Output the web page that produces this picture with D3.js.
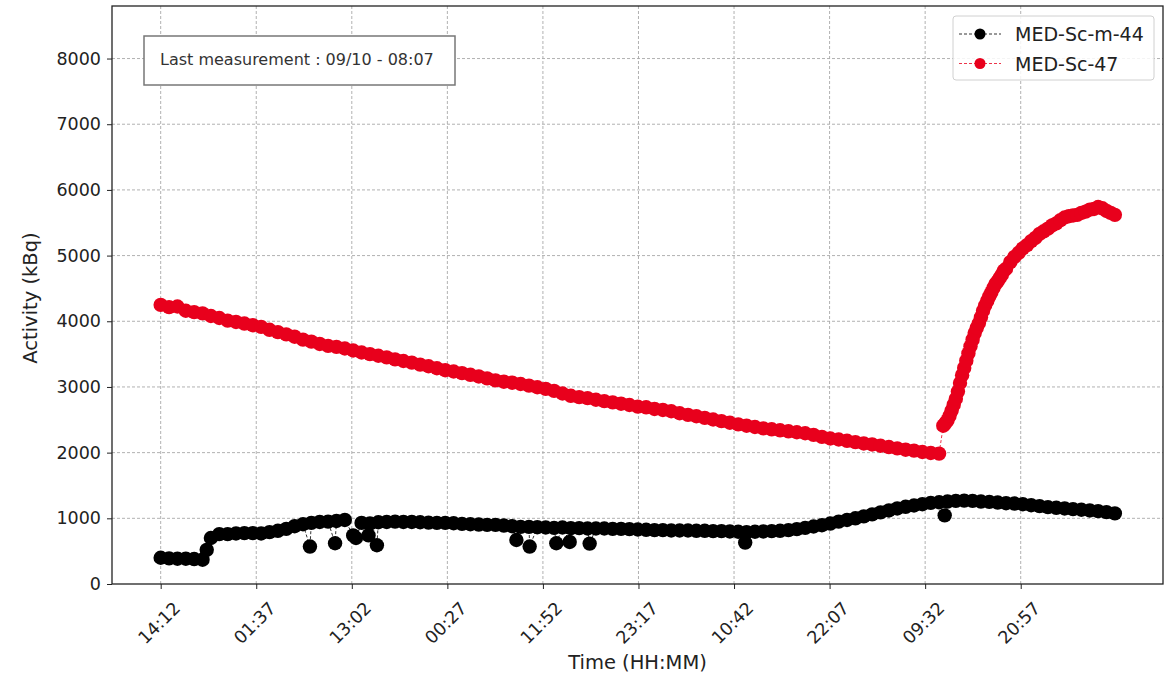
<!DOCTYPE html>
<html>
<head>
<meta charset="utf-8">
<script src="https://cdn.jsdelivr.net/npm/d3@7"></script>
<style>
  html, body { margin: 0; padding: 0; background: #ffffff; }
  svg { display: block; font-family: "DejaVu Sans", sans-serif; }
</style>
</head>
<body>
<svg id="chart" width="1171" height="674"></svg>
<script>
// ---------------- DATA ----------------
// x values are minutes elapsed since the first sample (14:12)
const xTickMinutes = [0, 685, 1370, 2055, 2740, 3425, 4110, 4795, 5480, 6165];
const xTickLabels = ["14:12", "01:37", "13:02", "00:27", "11:52", "23:17", "10:42", "22:07", "09:32", "20:57"];
const yTicks = [0, 1000, 2000, 3000, 4000, 5000, 6000, 7000, 8000];

const seriesNames = ["MED-Sc-m-44", "MED-Sc-47"];
const seriesColors = ["#000000", "#e8001c"];

// MED-Sc-m-44 : [minute, kBq]
const blackData = [
  [0,400],[60,390],[120,385],[180,385],[240,380],[300,370],[330,520],[360,700],[420,760],[480,760],
  [540,770],[600,775],[660,775],[720,770],[780,790],[840,810],[900,840],[960,880],[1020,910],[1070,570],
  [1080,930],[1140,945],[1200,950],[1250,620],[1260,960],[1320,975],[1380,740],[1400,700],[1440,930],[1490,740],
  [1500,920],[1550,590],[1560,940],[1620,945],[1680,950],[1740,945],[1800,945],[1860,940],[1920,935],[1980,930],
  [2040,930],[2100,925],[2160,915],[2220,910],[2280,905],[2340,900],[2400,900],[2460,890],[2520,880],[2550,670],
  [2580,870],[2640,870],[2645,570],[2700,865],[2760,860],[2820,855],[2836,620],[2880,860],[2932,640],[2940,850],
  [3000,850],[3060,845],[3075,615],[3120,845],[3180,845],[3240,840],[3300,840],[3360,835],[3420,830],[3480,825],
  [3540,820],[3600,820],[3660,815],[3720,815],[3780,815],[3840,810],[3900,810],[3960,805],[4020,805],[4080,800],
  [4140,795],[4190,630],[4200,790],[4260,795],[4320,800],[4380,805],[4440,810],[4500,820],[4560,835],[4620,855],
  [4680,875],[4740,895],[4800,920],[4860,950],[4920,975],[4980,1000],[5040,1030],[5100,1060],[5160,1090],[5220,1120],
  [5280,1150],[5340,1175],[5400,1195],[5460,1215],[5520,1235],[5580,1245],[5620,1045],[5640,1255],[5700,1265],[5760,1270],
  [5820,1265],[5880,1255],[5940,1250],[6000,1240],[6060,1230],[6120,1225],[6180,1215],[6240,1200],[6300,1185],[6360,1170],
  [6420,1160],[6480,1150],[6540,1140],[6600,1130],[6660,1120],[6720,1110],[6780,1095],[6840,1075]
];

// MED-Sc-47 : [minute, kBq]
const redData = [
  [0,4250],[60,4215],[120,4225],[180,4160],[240,4140],[300,4120],[360,4080],[420,4050],[480,4010],[540,3990],
  [600,3965],[660,3940],[720,3915],[780,3870],[840,3835],[900,3800],[960,3765],[1020,3720],[1080,3690],[1140,3655],
  [1200,3625],[1260,3610],[1320,3585],[1380,3555],[1440,3525],[1500,3500],[1560,3475],[1620,3450],[1680,3420],[1740,3395],
  [1800,3370],[1860,3340],[1920,3315],[1980,3285],[2040,3255],[2100,3235],[2160,3210],[2220,3185],[2280,3160],[2340,3130],
  [2400,3100],[2460,3080],[2520,3065],[2580,3045],[2640,3020],[2700,2995],[2760,2970],[2820,2940],[2880,2900],[2940,2865],
  [3000,2845],[3060,2830],[3120,2805],[3180,2785],[3240,2765],[3300,2745],[3360,2725],[3420,2700],[3480,2690],[3540,2665],
  [3600,2650],[3660,2630],[3720,2600],[3780,2575],[3840,2555],[3900,2530],[3960,2505],[4020,2480],[4080,2455],[4140,2430],
  [4200,2410],[4260,2390],[4320,2370],[4380,2355],[4440,2340],[4500,2325],[4560,2310],[4620,2295],[4680,2270],[4740,2240],
  [4800,2215],[4860,2200],[4920,2180],[4980,2160],[5040,2140],[5100,2125],[5160,2105],[5220,2085],[5280,2065],[5340,2045],
  [5400,2030],[5460,2010],[5520,1995],[5580,1985],
  [5610,2410],[5625,2450],[5640,2490],[5655,2560],[5670,2640],[5685,2730],[5700,2820],[5715,2930],[5730,3060],[5745,3180],
  [5760,3290],[5775,3400],[5790,3510],[5805,3620],[5820,3720],[5835,3820],[5850,3900],[5865,3970],[5880,4060],[5895,4160],
  [5910,4240],[5925,4310],[5940,4380],[5955,4440],[5970,4510],[5985,4570],[6000,4610],[6015,4660],[6030,4710],[6045,4770],
  [6060,4800],[6090,4900],[6120,4980],[6150,5040],[6180,5110],[6210,5160],[6240,5220],[6270,5270],[6300,5330],[6330,5370],
  [6360,5410],[6390,5460],[6420,5490],[6450,5540],[6480,5580],[6510,5600],[6540,5610],[6570,5620],[6600,5650],[6630,5670],
  [6660,5700],[6690,5710],[6720,5740],[6750,5720],[6780,5680],[6810,5650],[6840,5620]
];

const annotationText = "Last measurement : 09/10 - 08:07";
const xAxisTitle = "Time (HH:MM)";
const yAxisTitle = "Activity (kBq)";

// ---------------- CHART ----------------
const svg = d3.select("#chart");
const plot = { left: 112, right: 1163, top: 6, bottom: 584 };

const x = d3.scaleLinear().domain([-349, 7185]).range([plot.left, plot.right]);
const y = d3.scaleLinear().domain([0, 8800]).range([plot.bottom, plot.top]);

// grid
const grid = svg.append("g").attr("class", "grid");
grid.selectAll("line.vg").data(xTickMinutes).enter().append("line")
  .attr("x1", d => x(d)).attr("x2", d => x(d))
  .attr("y1", plot.top).attr("y2", plot.bottom)
  .attr("stroke", "#a8a8a8").attr("stroke-width", 0.9).attr("stroke-dasharray", "3,2");
grid.selectAll("line.hg").data(yTicks.filter(d => d > 0)).enter().append("line")
  .attr("x1", plot.left).attr("x2", plot.right)
  .attr("y1", d => y(d)).attr("y2", d => y(d))
  .attr("stroke", "#a8a8a8").attr("stroke-width", 0.9).attr("stroke-dasharray", "3,2");

// axes
const xAxis = d3.axisBottom(x).tickValues(xTickMinutes)
  .tickFormat((d, i) => xTickLabels[i]).tickSizeOuter(0).tickSize(5).tickPadding(4);
const gx = svg.append("g").attr("transform", `translate(0,${plot.bottom})`).call(xAxis);
gx.select(".domain").remove();
gx.selectAll(".tick line").attr("stroke", "#222").attr("stroke-width", 1);
gx.selectAll(".tick text")
  .attr("font-family", "DejaVu Sans").attr("font-size", 17.5).attr("fill", "#222")
  .attr("text-anchor", "middle").attr("dominant-baseline", "central")
  .attr("y", 0).attr("dy", 0)
  .attr("transform", "translate(-2,39) rotate(-45)");

const yAxis = d3.axisLeft(y).tickValues(yTicks).tickFormat(d3.format("d"))
  .tickSizeOuter(0).tickSize(5).tickPadding(6);
const gy = svg.append("g").attr("transform", `translate(${plot.left},0)`).call(yAxis);
gy.select(".domain").remove();
gy.selectAll(".tick line").attr("stroke", "#222").attr("stroke-width", 1);
gy.selectAll(".tick text")
  .attr("font-family", "DejaVu Sans").attr("font-size", 17.5).attr("fill", "#222");

// series
const line = d3.line().x(d => x(d[0])).y(d => y(d[1]));
const allSeries = [blackData, redData];
allSeries.forEach((data, si) => {
  const g = svg.append("g");
  g.append("path").datum(data).attr("d", line)
    .attr("fill", "none").attr("stroke", seriesColors[si])
    .attr("stroke-width", 0.8).attr("stroke-dasharray", "3,2");
  g.selectAll("circle").data(data).enter().append("circle")
    .attr("cx", d => x(d[0])).attr("cy", d => y(d[1])).attr("r", 7.2)
    .attr("fill", seriesColors[si]);
});

// frame
svg.append("rect")
  .attr("x", plot.left).attr("y", plot.top)
  .attr("width", plot.right - plot.left).attr("height", plot.bottom - plot.top)
  .attr("fill", "none").attr("stroke", "#222").attr("stroke-width", 1.3);

// axis titles
svg.append("text").attr("x", (plot.left + plot.right) / 2).attr("y", 669)
  .attr("text-anchor", "middle").attr("font-size", 19.5).attr("fill", "#222")
  .text(xAxisTitle);
svg.append("text").attr("transform", "translate(37,298) rotate(-90)")
  .attr("text-anchor", "middle").attr("font-size", 19.5).attr("fill", "#222")
  .text(yAxisTitle);

// annotation box
svg.append("rect").attr("x", 144).attr("y", 36).attr("width", 311).attr("height", 49)
  .attr("fill", "#ffffff").attr("stroke", "#777").attr("stroke-width", 1.5);
svg.append("text").attr("x", 160).attr("y", 65)
  .attr("font-size", 16).attr("fill", "#333").text(annotationText);

// legend
const lg = svg.append("g");
lg.append("rect").attr("x", 953).attr("y", 16).attr("width", 201).attr("height", 64)
  .attr("rx", 3).attr("fill", "#ffffff").attr("fill-opacity", 0.85)
  .attr("stroke", "#d0d0d0").attr("stroke-width", 1);
seriesNames.forEach((name, i) => {
  const cy = 34 + i * 29.5;
  lg.append("line").attr("x1", 959).attr("x2", 1001).attr("y1", cy).attr("y2", cy)
    .attr("stroke", seriesColors[i]).attr("stroke-width", 0.8).attr("stroke-dasharray", "3,2");
  lg.append("circle").attr("cx", 980).attr("cy", cy).attr("r", 5.5).attr("fill", seriesColors[i]);
  lg.append("text").attr("x", 1015).attr("y", cy + 7)
    .attr("font-size", 19).attr("fill", "#222").text(name);
});
</script>
</body>
</html>
